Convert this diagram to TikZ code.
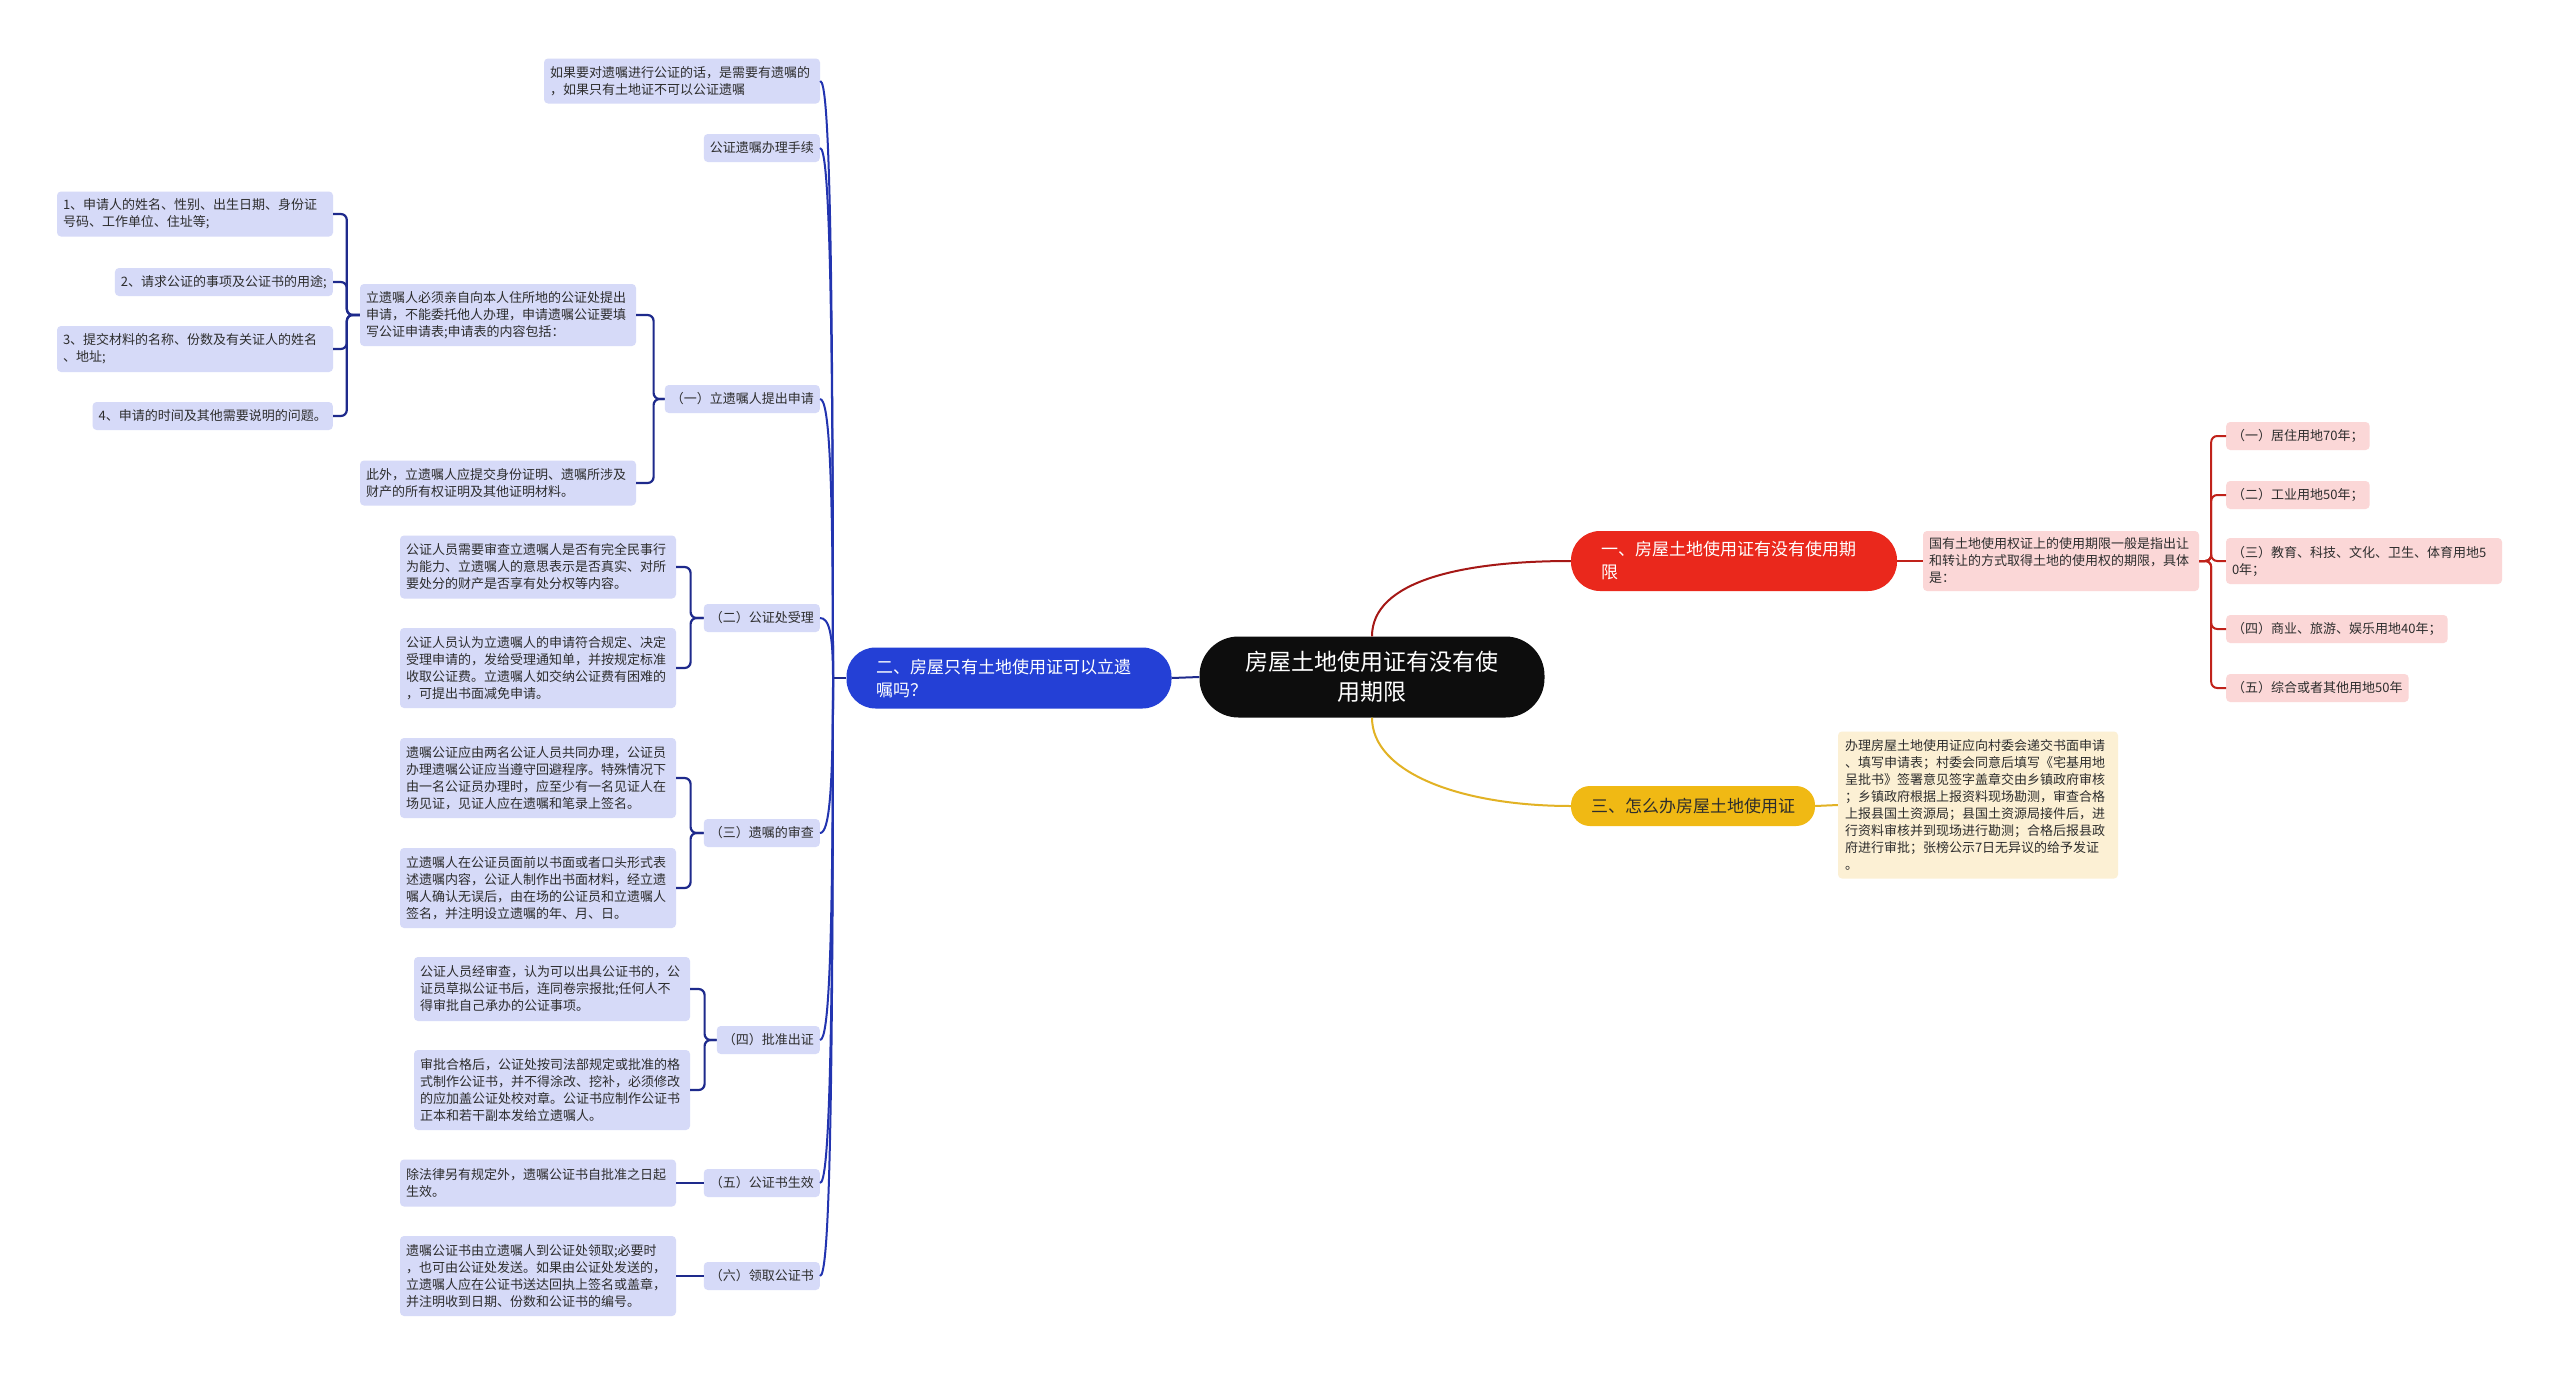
\documentclass[tikz,border=0pt]{standalone}
\usepackage{fontspec}
\setmainfont{Noto Sans CJK SC}
\setlength{\parindent}{0pt}
\definecolor{lav}{RGB}{214,218,248}
\definecolor{pinkc}{RGB}{251,215,215}
\definecolor{cream}{RGB}{252,240,212}
\definecolor{redb}{RGB}{234,40,28}
\definecolor{blueb}{RGB}{36,64,214}
\definecolor{goldb}{RGB}{240,185,20}
\definecolor{txt}{RGB}{45,45,45}
\definecolor{navyl}{RGB}{30,42,140}
\definecolor{bluel}{RGB}{34,52,176}
\definecolor{redl}{RGB}{192,34,26}
\definecolor{darkred}{RGB}{165,24,22}
\definecolor{goldl}{RGB}{226,178,36}
\begin{document}
\begin{tikzpicture}[x=1pt,y=-1pt,
  lv/.style={fill=lav, rounded corners=4pt, text=txt, font=\fontsize{13}{17}\selectfont, inner xsep=6pt, inner ysep=3pt, align=left},
  pk/.style={lv, fill=pinkc},
  multi/.style={text width=264pt},
  hA/.style={minimum height=28pt},
  hB/.style={minimum height=45pt},
  hC/.style={minimum height=62pt},
  hD/.style={minimum height=80pt},
  br/.style={font=\fontsize{17}{23}\selectfont, text=white, align=left, text width=266pt, minimum width=326pt, minimum height=60pt, rounded corners=29pt, inner sep=0pt},
  bl/.style={draw=bluel, line width=2pt},
  nv/.style={draw=navyl, line width=2.2pt, rounded corners=6pt},
  rl/.style={draw=redl, line width=2pt, rounded corners=6pt}
]
\useasboundingbox (0,0) rectangle (2560,1373);
\fill[white] (0,0) rectangle (2560,1373);

% root and main branches
\node[fill=black!95, text=white, font=\fontsize{23}{30}\selectfont, align=center, text width=260pt, minimum width=345pt, minimum height=81pt, rounded corners=39pt, inner sep=0pt] (R) at (1372,677) {房屋土地使用证有没有使\\用期限};
\node[br, fill=redb] (B1) at (1734,561) {一、房屋土地使用证有没有使用期\\限};
\node[br, fill=blueb, minimum width=325pt, minimum height=61pt] (B2) at (1009,678) {二、房屋只有土地使用证可以立遗\\嘱吗？};
\node[fill=goldb, text=txt, font=\fontsize{17}{23}\selectfont, minimum height=40pt, inner xsep=20pt, inner ysep=0pt, rounded corners=19pt] (B3) at (1693,806) {三、怎么办房屋土地使用证};

% red side
\node[pk, multi, minimum height=60pt] (P) at (2061,561) {国有土地使用权证上的使用期限一般是指出让\\和转让的方式取得土地的使用权的期限，具体\\是：};
\node[pk, hA, anchor=west] (Q1) at (2226,436) {（一）居住用地70年；};
\node[pk, hA, anchor=west] (Q2) at (2226,495) {（二）工业用地50年；};
\node[pk, multi, minimum height=46pt] (Q3) at (2364,561) {（三）教育、科技、文化、卫生、体育用地5\\0年；};
\node[pk, hA, anchor=west] (Q4) at (2226,629) {（四）商业、旅游、娱乐用地40年；};
\node[pk, hA, anchor=west] (Q5) at (2226,688) {（五）综合或者其他用地50年};

% yellow side
\node[lv, fill=cream, text width=266pt, inner xsep=7pt, minimum height=147pt] (Y) at (1978,805) {办理房屋土地使用证应向村委会递交书面申请\\、填写申请表；村委会同意后填写《宅基用地\\呈批书》签署意见签字盖章交由乡镇政府审核\\；乡镇政府根据上报资料现场勘测，审查合格\\上报县国土资源局；县国土资源局接件后，进\\行资料审核并到现场进行勘测；合格后报县政\\府进行审批；张榜公示7日无异议的给予发证\\。};

% blue side level 2
\node[lv, multi, hB] (K1) at (682,81) {如果要对遗嘱进行公证的话，是需要有遗嘱的\\，如果只有土地证不可以公证遗嘱};
\node[lv, hA, anchor=east] (K2) at (820,148) {公证遗嘱办理手续};
\node[lv, hA, anchor=east] (K3) at (820,399) {（一）立遗嘱人提出申请};
\node[lv, hA, anchor=east] (K4) at (820,618) {（二）公证处受理};
\node[lv, hA, anchor=east] (K5) at (820,833) {（三）遗嘱的审查};
\node[lv, hA, anchor=east] (K6) at (820,1040) {（四）批准出证};
\node[lv, hA, anchor=east] (K7) at (820,1183) {（五）公证书生效};
\node[lv, hA, anchor=east] (K8) at (820,1276) {（六）领取公证书};

% level 3
\node[lv, multi, hC] (A1) at (498,315) {立遗嘱人必须亲自向本人住所地的公证处提出\\申请，不能委托他人办理，申请遗嘱公证要填\\写公证申请表;申请表的内容包括：};
\node[lv, multi, hB] (A2) at (498,483) {此外，立遗嘱人应提交身份证明、遗嘱所涉及\\财产的所有权证明及其他证明材料。};
\node[lv, multi, minimum height=63pt] (C1) at (538,567) {公证人员需要审查立遗嘱人是否有完全民事行\\为能力、立遗嘱人的意思表示是否真实、对所\\要处分的财产是否享有处分权等内容。};
\node[lv, multi, hD] (C2) at (538,668) {公证人员认为立遗嘱人的申请符合规定、决定\\受理申请的，发给受理通知单，并按规定标准\\收取公证费。立遗嘱人如交纳公证费有困难的\\，可提出书面减免申请。};
\node[lv, multi, hD] (D1) at (538,778) {遗嘱公证应由两名公证人员共同办理，公证员\\办理遗嘱公证应当遵守回避程序。特殊情况下\\由一名公证员办理时，应至少有一名见证人在\\场见证，见证人应在遗嘱和笔录上签名。};
\node[lv, multi, hD] (D2) at (538,888) {立遗嘱人在公证员面前以书面或者口头形式表\\述遗嘱内容，公证人制作出书面材料，经立遗\\嘱人确认无误后，由在场的公证员和立遗嘱人\\签名，并注明设立遗嘱的年、月、日。};
\node[lv, multi, minimum height=64pt] (E1) at (552,989) {公证人员经审查，认为可以出具公证书的，公\\证员草拟公证书后，连同卷宗报批;任何人不\\得审批自己承办的公证事项。};
\node[lv, multi, hD] (E2) at (552,1090) {审批合格后，公证处按司法部规定或批准的格\\式制作公证书，并不得涂改、挖补，必须修改\\的应加盖公证处校对章。公证书应制作公证书\\正本和若干副本发给立遗嘱人。};
\node[lv, multi, minimum height=47pt] (F1) at (538,1183) {除法律另有规定外，遗嘱公证书自批准之日起\\生效。};
\node[lv, multi, hD] (G1) at (538,1276) {遗嘱公证书由立遗嘱人到公证处领取;必要时\\，也可由公证处发送。如果由公证处发送的，\\立遗嘱人应在公证书送达回执上签名或盖章，\\并注明收到日期、份数和公证书的编号。};

% level 4
\node[lv, multi, hB] (L1) at (195,214) {1、申请人的姓名、性别、出生日期、身份证\\号码、工作单位、住址等;};
\node[lv, hA, anchor=east] (L2) at (333,282) {2、请求公证的事项及公证书的用途;};
\node[lv, multi, minimum height=46pt] (L3) at (195,349) {3、提交材料的名称、份数及有关证人的姓名\\、地址;};
\node[lv, hA, anchor=east] (L4) at (333,416) {4、申请的时间及其他需要说明的问题。};

% connectors: root to branches
\draw[draw=darkred, line width=2pt] (R.north) .. controls +(0,-55) and +(-110,0) .. (B1.west);
\draw[draw=goldl, line width=2pt] (R.south) .. controls +(0,55) and +(-110,0) .. (B3.west);
\draw[draw=navyl, line width=2pt] (R.west) -- (B2.east);

% red side
\draw[draw=redl, line width=2pt] (B1.east) -- (P.west);
\foreach \q in {Q1,Q2,Q3,Q4,Q5} \draw[rl] (P.east) -- ++(12,0) |- (\q.west);

% yellow side
\draw[draw=goldl, line width=2pt] (B3.east) -- (Y.west);

% blue trunk
\coordinate (T) at (833,678);
\draw[draw=navyl, line width=2pt] (B2.west) -- (T);
\foreach \k/\yc in {K1/81,K2/148,K3/399,K4/618,K5/833,K6/1040,K7/1183,K8/1276}
  \draw[bl] (T) .. controls (833,{678+0.75*(\yc-678)}) and (829,\yc) .. (\k.east);

% brackets
\foreach \c in {A1,A2} \draw[nv] (K3.west) -- ++(-11,0) |- (\c.east);
\foreach \c in {L1,L2,L3,L4} \draw[nv] (A1.west) -- ++(-13,0) |- (\c.east);
\foreach \c in {C1,C2} \draw[nv] (K4.west) -- ++(-13,0) |- (\c.east);
\foreach \c in {D1,D2} \draw[nv] (K5.west) -- ++(-13,0) |- (\c.east);
\foreach \c in {E1,E2} \draw[nv] (K6.west) -- ++(-12,0) |- (\c.east);
\draw[nv] (K7.west) -- (F1.east);
\draw[nv] (K8.west) -- (G1.east);
\end{tikzpicture}
\end{document}
